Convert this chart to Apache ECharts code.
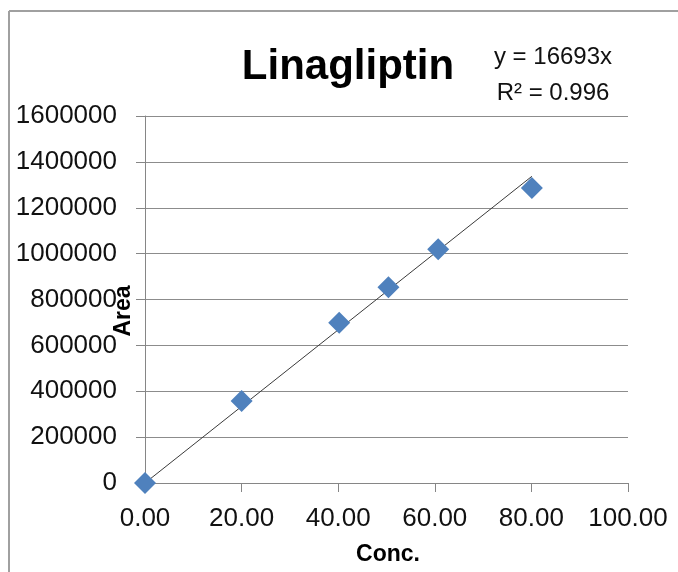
<!DOCTYPE html>
<html>
<head>
<meta charset="utf-8">
<script src="https://cdn.jsdelivr.net/npm/echarts@6/dist/echarts.min.js"></script>
<style>
html,body{margin:0;padding:0;background:#fff;}
#chart{width:678px;height:572px;}
</style>
</head>
<body>
<div id="chart"></div>
<script>
// Data
const concX = [0, 20.0, 40.2, 50.4, 60.7, 80.1];
const areaY = [0, 358000, 699000, 853000, 1019000, 1286000];
const trendX = [0, 80.1];
const SLOPE = 16693;
const titleText = 'Linagliptin';
const eqLines = ['y = 16693x', 'R\u00B2 = 0.996'];
const xName = 'Conc.';
const yName = 'Area';

const points = concX.map((x, i) => [x, areaY[i]]);
const trend = trendX.map(x => [x, SLOPE * x]);

const FONT = 'Liberation Sans, Arial, sans-serif';
const chart = echarts.init(document.getElementById('chart'), null, {renderer: 'canvas'});
chart.setOption({
  animation: false,
  backgroundColor: '#fff',
  grid: {left: 145, right: 50, top: 116, bottom: 89, containLabel: false},
  xAxis: {
    type: 'value', min: 0, max: 100, interval: 20,
    axisLine: {show: true, onZero: false, lineStyle: {color: '#868686', width: 1}},
    axisTick: {show: true, length: 9, lineStyle: {color: '#868686'}},
    splitLine: {show: false},
    axisLabel: {
      margin: 23, color: '#111', fontFamily: FONT, fontSize: 26,
      formatter: v => v.toFixed(2)
    }
  },
  yAxis: {
    type: 'value', min: 0, max: 1600000, interval: 200000,
    axisLine: {show: true, onZero: false, lineStyle: {color: '#868686', width: 1}},
    axisTick: {show: true, length: 9, lineStyle: {color: '#868686'}},
    splitLine: {show: true, lineStyle: {color: '#8c8c8c', width: 1}},
    axisLabel: {margin: 28, color: '#111', fontFamily: FONT, fontSize: 26, formatter: v => String(v)}
  },
  series: [
    {
      type: 'line', data: trend, symbol: 'none', z: 3,
      lineStyle: {color: '#3a3a3a', width: 1}
    },
    {
      type: 'scatter', data: points, symbol: 'diamond', symbolSize: 22, clip: false, z: 4,
      itemStyle: {color: '#4F81BD', opacity: 1}
    }
  ],
  graphic: [
    {type: 'line', shape: {x1: 9, y1: 11, x2: 9, y2: 600}, style: {stroke: '#a0a0a0', lineWidth: 2}, z: 100},
    {type: 'line', shape: {x1: 9, y1: 11, x2: 700, y2: 11}, style: {stroke: '#a0a0a0', lineWidth: 2}, z: 100},
    {type: 'text', x: 348, y: 67, style: {text: titleText, fill: '#000', font: 'bold 42px ' + FONT, textAlign: 'center', textVerticalAlign: 'middle'}, z: 100},
    {type: 'text', x: 553, y: 57, style: {text: eqLines[0], fill: '#111', font: '24px ' + FONT, textAlign: 'center', textVerticalAlign: 'middle'}, z: 100},
    {type: 'text', x: 553, y: 93, style: {text: eqLines[1], fill: '#111', font: '24px ' + FONT, textAlign: 'center', textVerticalAlign: 'middle'}, z: 100},
    {type: 'text', x: 388, y: 555, style: {text: xName, fill: '#000', font: 'bold 23px ' + FONT, textAlign: 'center', textVerticalAlign: 'middle'}, z: 100},
    {type: 'text', x: 124, y: 311, rotation: Math.PI / 2, style: {text: yName, fill: '#000', font: 'bold 23px ' + FONT, textAlign: 'center', textVerticalAlign: 'middle'}, z: 100}
  ]
});
</script>
</body>
</html>
